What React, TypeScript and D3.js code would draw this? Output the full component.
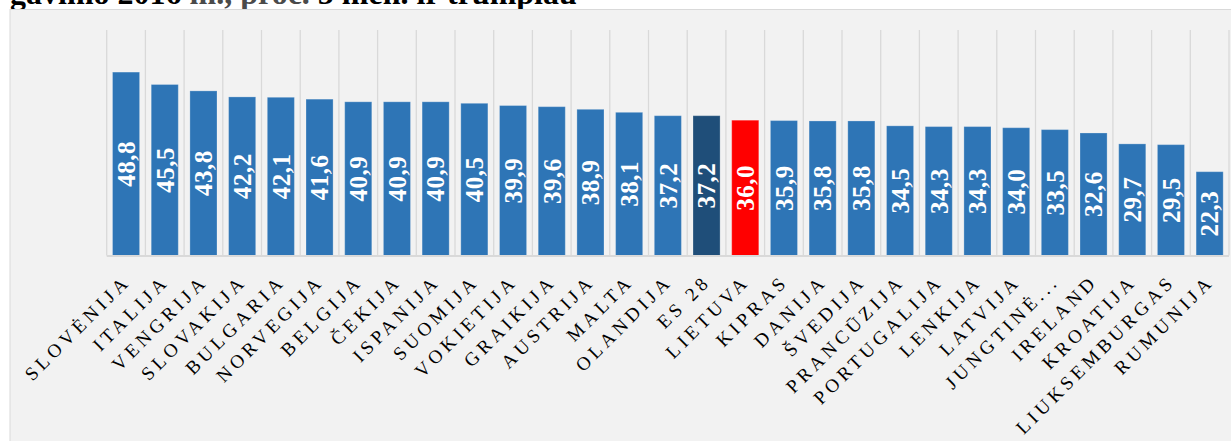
import React from "react";
import * as d3 from "d3";

const categories = [
  "SLOVĖNIJA", "ITALIJA", "VENGRIJA", "SLOVAKIJA", "BULGARIA", "NORVEGIJA", "BELGIJA",
  "ČEKIJA", "ISPANIJA", "SUOMIJA", "VOKIETIJA", "GRAIKIJA", "AUSTRIJA", "MALTA",
  "OLANDIJA", "ES 28", "LIETUVA", "KIPRAS", "DANIJA", "ŠVEDIJA", "PRANCŪZIJA",
  "PORTUGALIJA", "LENKIJA", "LATVIJA", "JUNGTINĖ...", "IRELAND", "KROATIJA",
  "LIUKSEMBURGAS", "RUMUNIJA",
];
const values = [
  48.8, 45.5, 43.8, 42.2, 42.1, 41.6, 40.9, 40.9, 40.9, 40.5, 39.9, 39.6, 38.9, 38.1,
  37.2, 37.2, 36.0, 35.9, 35.8, 35.8, 34.5, 34.3, 34.3, 34.0, 33.5, 32.6, 29.7, 29.5, 22.3,
];
const highlightEU = "ES 28";
const highlightLT = "LIETUVA";
const yDomain = [0, 60];

const W = 1231;
const H = 441;
const plotLeft = 106.7;
const plotRight = 1229;
const plotTop = 30;
const plotBottom = 255.5;

export default function App() {
  const x = d3.scaleBand<string>().domain(categories).range([plotLeft, plotRight]).paddingInner(0.3).paddingOuter(0.15);
  const y = d3.scaleLinear().domain(yDomain).range([plotBottom, plotTop]);
  const step = x.step();
  const bw = x.bandwidth();
  const off = (step - bw) / 2;
  const fmt = (v: number) => v.toFixed(1).replace(".", ",");
  const color = (c: string) => (c === highlightEU ? "#1F4E79" : c === highlightLT ? "#FF0000" : "#2E75B6");
  const serif = "'Liberation Serif', 'Times New Roman', serif";

  return (
    <svg width={W} height={H} style={{ position: "absolute", left: 0, top: 0, background: "#fff" }} fontFamily={serif}>
      <text x={10} y={4} fontSize={32} fontWeight="bold" fill="#000">
        <tspan>gavimo 2016 </tspan>
        <tspan fill="#4a4a4a">m., proc.</tspan>
        <tspan> 5 mėn. ir trumpiau</tspan>
      </text>
      <rect x={10} y={9.5} width={1240} height={460} fill="#F2F2F2" stroke="#D9D9D9" strokeWidth={1} />
      {/* gridlines at category boundaries */}
      {categories.map((c, i) => (
        <line key={"g" + i} x1={(x(c) as number) - off} x2={(x(c) as number) - off} y1={plotTop} y2={plotBottom} stroke="#D9D9D9" strokeWidth={1.3} />
      ))}
      <line x1={plotRight} x2={plotRight} y1={plotTop} y2={plotBottom} stroke="#D9D9D9" strokeWidth={1.3} />
      {/* bars */}
      {categories.map((c, i) => (
        <rect key={"b" + i} x={x(c)} y={y(values[i])} width={bw} height={y(0) - y(values[i])} fill={color(c)} stroke="rgba(255,255,255,0.25)" strokeWidth={1} />
      ))}
      <line x1={plotLeft} x2={plotRight} y1={plotBottom + 0.5} y2={plotBottom + 0.5} stroke="#D9D9D9" strokeWidth={2} />
      {/* value labels */}
      {categories.map((c, i) => {
        const cx = (x(c) as number) + bw / 2;
        const cy = (y(values[i]) + y(0)) / 2;
        return (
          <text key={"v" + i} transform={`translate(${cx},${cy}) rotate(-90)`} textAnchor="middle" dy="0.35em" fontSize={25} fontWeight="bold" fill="#fff" letterSpacing={0.5}>
            {fmt(values[i])}
          </text>
        );
      })}
      {/* category labels */}
      {categories.map((c, i) => {
        const cx = (x(c) as number) + bw / 2;
        return (
          <text key={"l" + i} transform={`translate(${cx + 5.5},${plotBottom + 27}) rotate(-45)`} textAnchor="end" fontSize={19} fill="#000" letterSpacing={4.2}>
            {c}
          </text>
        );
      })}
    </svg>
  );
}
